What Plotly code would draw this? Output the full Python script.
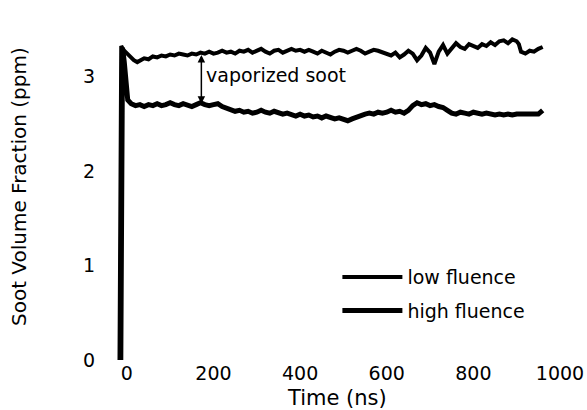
import plotly.graph_objects as go

# ---- data ----
t_low = [-17, -13, -8, 0, 8, 16, 24, 32, 40, 50, 60, 70, 80, 90, 100, 110, 120, 130, 140, 150,
         160, 170, 180, 190, 200, 210, 220, 230, 240, 250, 260, 270, 280, 290, 300, 310, 320, 330,
         340, 350, 360, 370, 380, 390, 400, 410, 420, 430, 440, 450, 460, 470, 480, 490, 500, 510,
         520, 530, 540, 550, 560, 570, 580, 590, 600, 610, 620, 630, 640, 650, 660, 670, 680, 690,
         700, 710, 720, 730, 740, 750, 760, 770, 780, 790, 800, 810, 820, 830, 840, 850, 860, 870,
         880, 890, 900, 905, 910, 920, 930, 940, 950, 960]
f_low = [0.00, 3.32, 3.28, 3.24, 3.20, 3.17, 3.15, 3.17, 3.19, 3.18, 3.21, 3.20, 3.22, 3.21, 3.23,
         3.22, 3.24, 3.23, 3.22, 3.24, 3.23, 3.25, 3.24, 3.26, 3.24, 3.25, 3.27, 3.25, 3.26, 3.24,
         3.27, 3.26, 3.28, 3.25, 3.27, 3.29, 3.26, 3.24, 3.27, 3.28, 3.25, 3.27, 3.29, 3.27, 3.28,
         3.26, 3.28, 3.26, 3.24, 3.27, 3.25, 3.23, 3.26, 3.28, 3.27, 3.25, 3.27, 3.29, 3.27, 3.24,
         3.26, 3.28, 3.27, 3.25, 3.23, 3.22, 3.25, 3.20, 3.23, 3.27, 3.24, 3.17, 3.22, 3.30, 3.25,
         3.13, 3.26, 3.33, 3.24, 3.30, 3.35, 3.31, 3.29, 3.34, 3.32, 3.30, 3.34, 3.32, 3.36, 3.33,
         3.37, 3.38, 3.35, 3.39, 3.37, 3.34, 3.26, 3.24, 3.27, 3.26, 3.29, 3.31]

t_high = [-14, -10, -6, -2, 2, 10, 20, 30, 40, 50, 60, 70, 80, 90, 100, 110, 120, 130, 140, 150,
          160, 170, 180, 190, 200, 210, 220, 230, 240, 250, 260, 270, 280, 290, 300, 310, 320, 330,
          340, 350, 360, 370, 380, 390, 400, 410, 420, 430, 440, 450, 460, 470, 480, 490, 500, 510,
          520, 530, 540, 550, 560, 570, 580, 590, 600, 610, 620, 630, 640, 650, 660, 670, 680, 690,
          700, 710, 720, 730, 740, 750, 760, 770, 780, 790, 800, 810, 820, 830, 840, 850, 860, 870,
          880, 890, 900, 910, 920, 930, 940, 950, 960]
f_high = [0.00, 3.30, 3.15, 2.85, 2.75, 2.71, 2.69, 2.70, 2.68, 2.70, 2.69, 2.71, 2.69, 2.70, 2.72,
          2.70, 2.69, 2.71, 2.70, 2.68, 2.70, 2.72, 2.70, 2.69, 2.70, 2.71, 2.68, 2.66, 2.65, 2.63,
          2.64, 2.62, 2.63, 2.61, 2.62, 2.64, 2.62, 2.61, 2.63, 2.62, 2.60, 2.61, 2.59, 2.58, 2.60,
          2.58, 2.59, 2.57, 2.58, 2.56, 2.58, 2.57, 2.55, 2.56, 2.54, 2.53, 2.55, 2.57, 2.59, 2.60,
          2.61, 2.60, 2.62, 2.61, 2.62, 2.64, 2.62, 2.63, 2.61, 2.64, 2.69, 2.72, 2.70, 2.71, 2.69,
          2.70, 2.68, 2.67, 2.64, 2.61, 2.60, 2.62, 2.61, 2.60, 2.62, 2.61, 2.60, 2.61, 2.60, 2.59,
          2.60, 2.59, 2.60, 2.59, 2.60, 2.60, 2.59, 2.60, 2.59, 2.60, 2.64]

x_ticks = [0, 200, 400, 600, 800, 1000]
y_ticks = [0, 1, 2, 3]

arrow_t = 172
arrow_lo = 2.71
arrow_hi = 3.24
annot_text = "vaporized soot"
x_title = "Time (ns)"
y_title = "Soot Volume Fraction (ppm)"

FONT = "DejaVu Sans, sans-serif"

fig = go.Figure()
fig.add_trace(go.Scatter(x=t_low, y=f_low, mode="lines", name="low fluence",
                         line=dict(color="black", width=4), legendgroup="a"))
fig.add_trace(go.Scatter(x=t_high, y=f_high, mode="lines", name="high fluence",
                         line=dict(color="black", width=5), legendgroup="b"))

fig.add_annotation(x=arrow_t, y=arrow_lo, ax=arrow_t, ay=arrow_hi, xref="x", yref="y",
                   axref="x", ayref="y", text="", showarrow=True, arrowhead=2,
                   arrowside="end+start", arrowsize=1, arrowwidth=1.5, arrowcolor="black")
fig.add_annotation(x=arrow_t + 7, y=(arrow_lo + arrow_hi) / 2 + 0.04, xref="x", yref="y",
                   text=annot_text, showarrow=False, xanchor="left",
                   font=dict(family=FONT, size=19, color="black"))
# axis titles
fig.add_annotation(x=0.501, y=-0.115, xref="paper", yref="paper", text=x_title,
                   showarrow=False, xanchor="center", yanchor="middle",
                   font=dict(family=FONT, size=21, color="black"))
fig.add_annotation(x=-0.210, y=0.523, xref="paper", yref="paper", text=y_title,
                   showarrow=False, xanchor="center", yanchor="middle", textangle=-90,
                   font=dict(family=FONT, size=20, color="black"))

fig.update_layout(
    width=601, height=420,
    margin=dict(l=113, r=41, t=29, b=60),
    paper_bgcolor="white", plot_bgcolor="white",
    font=dict(family=FONT, size=19, color="black"),
    showlegend=True,
    legend=dict(x=0.502, y=0.308, xanchor="left", yanchor="top",
                bgcolor="rgba(0,0,0,0)", font=dict(size=19),
                traceorder="grouped", tracegroupgap=6, itemwidth=60),
    xaxis=dict(range=[-32, 1000], tickvals=x_ticks, showgrid=False, zeroline=False,
               showline=False, ticks=""),
    yaxis=dict(range=[0, 3.5], tickvals=y_ticks, showgrid=False, zeroline=False,
               showline=False, ticks="", ticklabelstandoff=17),
)

page_css = ("document.documentElement.style.margin='0';"
            "document.documentElement.style.overflow='hidden';"
            "document.body.style.margin='0';"
            "document.body.style.overflow='hidden';")

fig.write_html("out.html", config={"displayModeBar": False}, post_script=page_css)
